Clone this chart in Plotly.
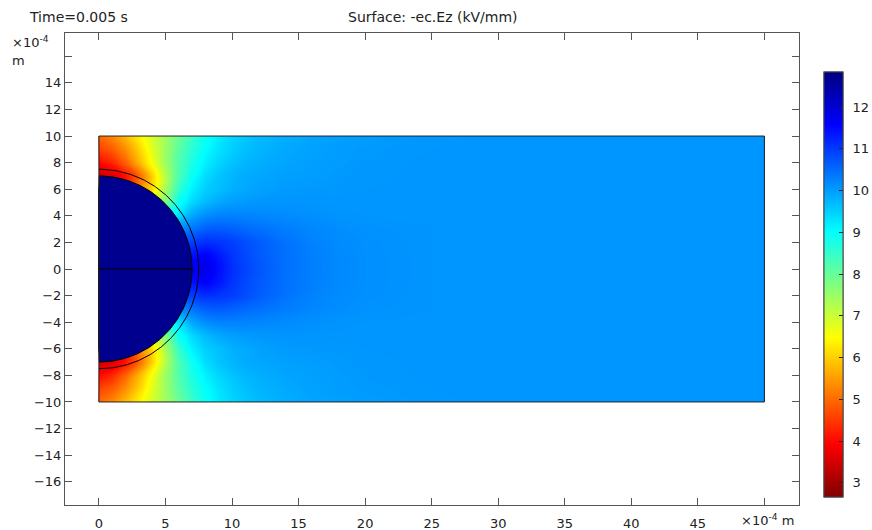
import numpy as np
import plotly.graph_objects as go

# ---------------- data ----------------
# grid columns (x, units of 1e-4 m) and rows of the upper half (y >= 0)
x_nodes = [0, 1, 2, 3, 4, 5, 6, 7, 8, 9, 10, 11, 12, 14, 16, 18, 20, 25, 30, 40, 50]
y_upper = [0, 1, 2, 3, 4, 5, 6, 7, 8, 9, 10]

# -ec.Ez (kV/mm) estimated from the colours, one row per y in y_upper
ez_y0 = [12.6, 11.7, 11.7, 11.7, 11.7, 11.7, 11.7, 11.75, 11.8, 11.45, 11.1, 10.9, 10.72, 10.45, 10.3, 10.2, 10.14, 10.08, 10.07, 10.07, 10.07]
ez_y1 = [12.6, 7.75, 10.15, 10.8, 11.05, 11.2, 11.3, 11.4, 11.6, 11.35, 11.05, 10.85, 10.68, 10.45, 10.3, 10.2, 10.14, 10.08, 10.07, 10.07, 10.07]
ez_y2 = [12.6, 5.2, 7.75, 9.35, 10.15, 10.55, 10.8, 10.95, 11.1, 11.05, 10.95, 10.8, 10.65, 10.42, 10.27, 10.18, 10.13, 10.08, 10.07, 10.07, 10.07]
ez_y3 = [12.6, 4.3, 6.1, 7.75, 8.95, 9.7, 10.15, 10.4, 10.6, 10.65, 10.6, 10.52, 10.45, 10.32, 10.22, 10.15, 10.11, 10.08, 10.07, 10.07, 10.07]
ez_y4 = [12.6, 3.95, 5.2, 6.55, 7.75, 8.7, 9.35, 9.9, 10.15, 10.25, 10.27, 10.25, 10.22, 10.18, 10.13, 10.1, 10.08, 10.07, 10.07, 10.07, 10.07]
ez_y5 = [12.6, 3.8, 4.6, 5.7, 6.8, 7.75, 8.9, 9.4, 9.7, 9.88, 9.98, 10.03, 10.06, 10.08, 10.08, 10.07, 10.07, 10.07, 10.07, 10.07, 10.07]
ez_y6 = [12.6, 3.7, 4.3, 5.2, 6.1, 7.35, 8.5, 9.15, 9.5, 9.65, 9.8, 9.88, 9.95, 10.02, 10.04, 10.05, 10.06, 10.07, 10.07, 10.07, 10.07]
ez_y7 = [3.4, 3.6, 4.1, 4.9, 6.0, 7.2, 8.25, 8.9, 9.35, 9.6, 9.75, 9.85, 9.9, 9.97, 10.0, 10.03, 10.05, 10.07, 10.07, 10.07, 10.07]
ez_y8 = [4.0, 4.3, 4.9, 5.7, 6.55, 7.45, 8.2, 8.75, 9.15, 9.42, 9.62, 9.74, 9.82, 9.92, 9.97, 10.01, 10.04, 10.07, 10.07, 10.07, 10.07]
ez_y9 = [4.6, 4.85, 5.35, 6.0, 6.75, 7.45, 8.1, 8.6, 9.0, 9.3, 9.5, 9.65, 9.75, 9.88, 9.95, 10.0, 10.03, 10.06, 10.07, 10.07, 10.07]
ez_y10 = [5.0, 5.3, 5.8, 6.35, 6.9, 7.4, 7.95, 8.45, 8.9, 9.2, 9.42, 9.58, 9.7, 9.83, 9.91, 9.96, 10.0, 10.05, 10.07, 10.07, 10.07]

# geometry: inner sphere radius and outer shell radius (1e-4 m)
boundary_radii = [7.0, 7.5]

# colour range of the colour bar and tick values
color_range = [2.66, 12.84]
cbar_ticks = [3, 4, 5, 6, 7, 8, 9, 10, 11, 12]
x_ticks = [0, 5, 10, 15, 20, 25, 30, 35, 40, 45]
x_unlabelled_ticks = [50]
y_ticks = [-16, -14, -12, -10, -8, -6, -4, -2, 0, 2, 4, 6, 8, 10, 12, 14]
y_unlabelled_ticks = [16]

# ---------------- build the grid (mirror symmetric about y = 0) ----------------
ez_upper = [ez_y0, ez_y1, ez_y2, ez_y3, ez_y4, ez_y5, ez_y6, ez_y7, ez_y8, ez_y9, ez_y10]
y_nodes = [-y for y in y_upper[:0:-1]] + y_upper
z_grid = ez_upper[:0:-1] + ez_upper

FONT = "DejaVu Sans"
TXT = "#222222"

jet_r = [
    [0.0, "rgb(128,0,0)"],
    [0.125, "rgb(255,0,0)"],
    [0.375, "rgb(255,255,0)"],
    [0.5, "rgb(128,255,128)"],
    [0.625, "rgb(0,255,255)"],
    [0.875, "rgb(0,0,255)"],
    [1.0, "rgb(0,0,128)"],
]

# plot area in pixels: l=65..799, t=33..505
PL, PR, PT, PB = 65, 799, 33, 505
def px2paper_x(px):
    return (px - PL) / (PR - PL)
def px2paper_y(py):
    return (PB - py) / (PB - PT)

fig = go.Figure()

fig.add_trace(go.Contour(
    x=x_nodes, y=y_nodes, z=z_grid,
    colorscale=jet_r, zmin=color_range[0], zmax=color_range[1],
    contours=dict(start=color_range[0], end=color_range[1], size=0.02,
                  coloring="fill", showlines=False),
    line=dict(width=0),
    showscale=False,
    hoverinfo="skip",
))

# sphere (half disk) and shell outline
th = np.linspace(-np.pi / 2, np.pi / 2, 241)
r_in, r_out = boundary_radii
fig.add_trace(go.Scatter(
    x=r_in * np.cos(th), y=r_in * np.sin(th), mode="lines",
    fill="toself", fillcolor="rgb(0,0,142)",
    line=dict(color="black", width=1), hoverinfo="skip", showlegend=False,
))
fig.add_trace(go.Scatter(
    x=r_out * np.cos(th), y=r_out * np.sin(th), mode="lines",
    line=dict(color="black", width=1), hoverinfo="skip", showlegend=False,
))
fig.add_trace(go.Scatter(
    x=[0, r_in], y=[0, 0], mode="lines",
    line=dict(color="black", width=1), hoverinfo="skip", showlegend=False,
))

# colour bars (continuous gradient): one carries the labels, one the inner tick marks
cb_common = dict(
    thickness=19, thicknessmode="pixels",
    len=425, lenmode="pixels",
    x=px2paper_x(824), xanchor="left",
    y=px2paper_y(72), yanchor="top",
    xpad=0, ypad=0,
    outlinewidth=1, outlinecolor="#444444",
    tickvals=cbar_ticks,
    tickfont=dict(family=FONT, size=13, color=TXT),
)
fig.add_trace(go.Scatter(
    x=[None], y=[None], mode="markers", showlegend=False, hoverinfo="skip",
    marker=dict(color=[color_range[0]], cmin=color_range[0], cmax=color_range[1],
                colorscale=jet_r, showscale=True,
                colorbar=dict(ticks="outside", ticklen=7, tickcolor="rgba(0,0,0,0)", **cb_common)),
))
fig.add_trace(go.Scatter(
    x=[None], y=[None], mode="markers", showlegend=False, hoverinfo="skip",
    marker=dict(color=[color_range[0]], cmin=color_range[0], cmax=color_range[1],
                colorscale=jet_r, showscale=True,
                colorbar=dict(ticks="inside", ticklen=4, tickcolor="#222222",
                              showticklabels=False, **cb_common)),
))

# domain outline
fig.add_shape(type="rect", x0=x_nodes[0], x1=x_nodes[-1], y0=y_nodes[0], y1=y_nodes[-1],
              line=dict(color="#222222", width=1), layer="above")

axis_common = dict(
    showgrid=False, zeroline=False, showline=True, linecolor="#555555", linewidth=1,
    ticks="inside", ticklen=7, tickcolor="#555555", mirror="ticks",
    tickfont=dict(family=FONT, size=13, color=TXT),
)

fig.update_layout(
    width=872, height=530,
    margin=dict(l=PL, r=872 - PR, t=PT, b=530 - PB, autoexpand=False),
    paper_bgcolor="white", plot_bgcolor="white",
    showlegend=False,
    xaxis=dict(range=[-2.55, 52.6], tickvals=x_ticks, ticklabelstandoff=6,
               minor=dict(tickvals=x_unlabelled_ticks, ticks="inside", ticklen=7,
                          tickcolor="#555555", showgrid=False),
               **axis_common),
    yaxis=dict(range=[-17.75, 17.75], tickvals=y_ticks,
               minor=dict(tickvals=y_unlabelled_ticks, ticks="inside", ticklen=7,
                          tickcolor="#555555", showgrid=False),
               **axis_common),
    font=dict(family=FONT, size=13, color=TXT),
)

def ann_px(text, px, py, xanchor="left", yanchor="middle", size=13):
    fig.add_annotation(text=text, x=px2paper_x(px), y=px2paper_y(py), xref="paper", yref="paper",
                       xanchor=xanchor, yanchor=yanchor, showarrow=False,
                       font=dict(family=FONT, size=size, color=TXT))

ann_px("Time=0.005 s", 27, 17.5, size=14)
ann_px("Surface: -ec.Ez (kV/mm)", 433, 17.5, xanchor="center", size=14)
ann_px("×10<sup>-4</sup>", 10, 42)
ann_px("m", 10, 61)
ann_px("×10<sup>-4</sup> m", 739, 530, yanchor="bottom")

fig.write_html("out.html", config={"displayModeBar": False},
               post_script="document.body.style.margin='0';")
